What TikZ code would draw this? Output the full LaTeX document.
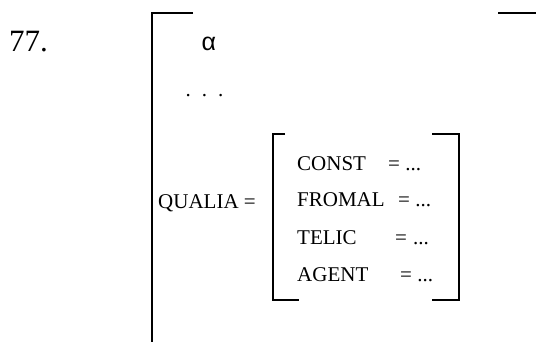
\documentclass[tikz,border=0pt]{standalone}
\usepackage{fontspec}
\setmainfont{Liberation Serif}
\newfontfamily\alphafont{Liberation Sans}
\begin{document}
\begin{tikzpicture}[x=1pt,y=-1pt,
  txt/.style={anchor=base west,inner sep=0pt,font=\fontsize{21}{25}\selectfont},
  brk/.style={line width=2pt,line cap=butt}]
\useasboundingbox (0,0) rectangle (536,342);
% number
\node[anchor=base west,inner sep=0pt,font=\fontsize{31}{36}\selectfont] (num) at (9,52) {77.};
% outer bracket
\draw[brk] (193,13) -- (152,13) -- (152,342);
\draw[brk] (498,13) -- (536,13);
% alpha and dots
\node[anchor=base west,inner sep=0pt,font=\alphafont\fontsize{25}{30}\selectfont] (alpha) at (201.5,51) {α};
\node[anchor=base west,inner sep=0pt,font=\fontsize{21}{24}\selectfont] (dots) at (185.5,97) {.\hspace{11pt}.\hspace{11pt}.};
% qualia
\node[txt] (qualia) at (158,209) {QUALIA =};
% inner bracket
\draw[brk] (285,134) -- (273,134) -- (273,300) -- (299,300);
\draw[brk] (432,134) -- (459,134) -- (459,300) -- (432,300);
% rows
\node[txt] (const) at (297,171) {CONST};
\node[txt] (conste) at (388,171) {= ...};
\node[txt] (fromal) at (297,207) {FROMAL};
\node[txt] (fromale) at (398,207) {= ...};
\node[txt] (telic) at (297,244) {TELIC};
\node[txt] (telice) at (395,244) {=\hspace{6pt}...};
\node[txt] (agent) at (297,281) {AGENT};
\node[txt] (agente) at (400,281) {= ...};
\end{tikzpicture}
\end{document}
